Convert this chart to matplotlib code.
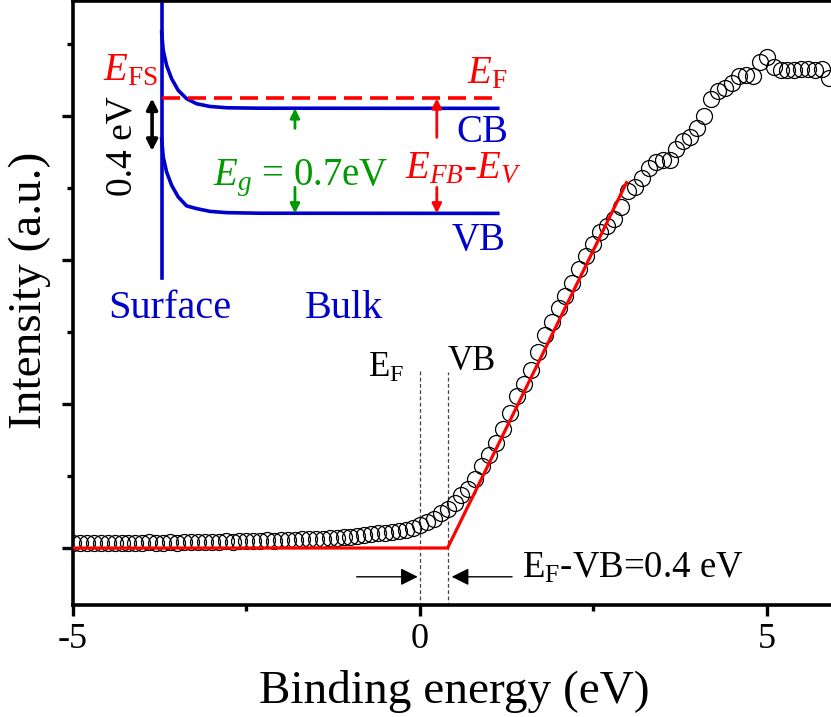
import matplotlib
matplotlib.use("Agg")
import matplotlib.pyplot as plt
from matplotlib.ticker import MultipleLocator

# ---- datos ----
energia = [round(-5.0 + 0.1 * i, 1) for i in range(110)]
intensidad = [
    0.035, 0.037, 0.033, 0.035, 0.038, 0.036, 0.034, 0.036, 0.038, 0.035,
    0.037, 0.039, 0.036, 0.038, 0.040, 0.038, 0.041, 0.039, 0.042, 0.044,
    0.041, 0.045, 0.047, 0.044, 0.048, 0.050, 0.047, 0.051, 0.053, 0.050,
    0.055, 0.057, 0.058, 0.060, 0.062, 0.063, 0.066, 0.068, 0.072, 0.076,
    0.080, 0.085, 0.090, 0.100, 0.105, 0.105, 0.110, 0.115, 0.125, 0.140,
    0.160, 0.180, 0.200, 0.240, 0.270, 0.310, 0.370, 0.410, 0.480, 0.570,
    0.650, 0.730, 0.830, 0.940, 1.060, 1.140, 1.240, 1.360, 1.480, 1.570,
    1.670, 1.750, 1.840, 1.940, 2.030, 2.110, 2.200, 2.240, 2.290, 2.370,
    2.480, 2.510, 2.570, 2.640, 2.680, 2.700, 2.700, 2.770, 2.830, 2.860,
    2.920, 3.000, 3.120, 3.180, 3.200, 3.230, 3.280, 3.290, 3.280, 3.380,
    3.410, 3.340, 3.320, 3.320, 3.320, 3.330, 3.330, 3.320, 3.330, 3.270,
]

# ajuste lineal (borde de la banda de valencia)
ajuste_x = [-5.0, 0.4, 2.98]
ajuste_y = [0.0, 0.0, 2.54]

# esquema de bandas (inserto)
curva_x = [-3.722, -3.699, -3.650, -3.578, -3.483, -3.362, -3.218, -3.026, -2.785, -2.305, 1.124]
cb_y = [3.585, 3.458, 3.354, 3.262, 3.181, 3.123, 3.088, 3.069, 3.060, 3.057, 3.056]
vb_y = [2.845, 2.717, 2.613, 2.521, 2.440, 2.378, 2.359, 2.340, 2.331, 2.327, 2.326]
superficie_x = -3.722
superficie_y = [1.88, 3.79]
fermi_y = 3.125
fermi_x = [-3.722, 1.124]

plt.rcParams['font.family'] = 'Liberation Serif'
plt.rcParams['mathtext.fontset'] = 'custom'
plt.rcParams['mathtext.rm'] = 'Liberation Serif'
plt.rcParams['mathtext.it'] = 'Liberation Serif:italic'
plt.rcParams['mathtext.bf'] = 'Liberation Serif:bold'
plt.rcParams['axes.unicode_minus'] = False

AZUL = '#0000CC'
ROJO = '#FF0000'
VERDE = '#009900'


def flecha(ax, x0, y0, x1, y1, color, lw=2.0, ms=16, estilo='-|>'):
    ax.annotate('', xy=(x1, y1), xytext=(x0, y0),
                arrowprops=dict(arrowstyle=estilo, color=color, lw=lw,
                                mutation_scale=ms, shrinkA=0, shrinkB=0))


def graficar():
    fig = plt.figure(figsize=(8.31, 7.17), dpi=100)
    ax = fig.add_axes([73 / 831, 112 / 717, (836 - 73) / 831, (605 - 1.3) / 717])

    ax.plot(energia, intensidad, 'o', ms=11.5, mfc='none', mec='black', mew=0.9, zorder=3)
    ax.plot(ajuste_x, ajuste_y, color=ROJO, lw=2.3, zorder=4)

    # lineas de referencia E_F y VB
    ax.plot([0.0, 0.0], [-0.4, 1.236], ls=(0, (3, 2)), color='#444444', lw=0.9)
    ax.plot([0.4, 0.4], [-0.4, 1.22], ls=(0, (3, 2)), color='#444444', lw=0.9)
    ax.text(-0.75, 1.19, r'E$_\mathrm{F}$', fontsize=25, va='baseline')
    ax.text(0.40, 1.236, 'VB', fontsize=25, va='baseline')
    flecha(ax, -0.91, -0.2, -0.03, -0.2, 'black', lw=1.0, ms=26)
    flecha(ax, 1.33, -0.2, 0.46, -0.2, 'black', lw=1.0, ms=26)
    ax.text(1.48, -0.208, r'E$_\mathrm{F}$-VB=0.4 eV', fontsize=26.5, va='baseline')

    # inserto: diagrama de bandas
    ax.plot([superficie_x, superficie_x], superficie_y, color=AZUL, lw=2.6)
    ax.plot(curva_x, cb_y, color=AZUL, lw=2.6)
    ax.plot(curva_x, vb_y, color=AZUL, lw=2.6)
    ax.plot(fermi_x, [fermi_y, fermi_y], color=ROJO, lw=2.6, dashes=(5, 2.2))

    flecha(ax, -3.86, 2.76, -3.86, 3.125, 'black', lw=2.6, ms=16, estilo='<|-|>')
    flecha(ax, -1.80, 2.917, -1.80, 3.056, VERDE, lw=2.0, ms=14)
    flecha(ax, -1.80, 2.507, -1.80, 2.326, VERDE, lw=2.0, ms=14)
    flecha(ax, 0.245, 2.854, 0.245, 3.125, ROJO, lw=2.0, ms=14)
    flecha(ax, 0.245, 2.507, 0.245, 2.326, ROJO, lw=2.0, ms=14)

    ax.text(-3.775, 3.25, r'$E_\mathrm{FS}$', color=ROJO, fontsize=28, ha='right', va='baseline')
    ax.text(0.677, 3.229, r'$E_\mathrm{F}$', color=ROJO, fontsize=28, va='baseline')
    ax.text(0.533, 2.82, 'CB', color=AZUL, fontsize=28, va='baseline')
    ax.text(0.461, 2.07, 'VB', color=AZUL, fontsize=28, va='baseline')
    ax.text(-2.983, 2.52, r'$E_g$ = 0.7eV', color=VERDE, fontsize=28, va='baseline')
    ax.text(-0.216, 2.57, r'$E_{FB}$-$E_V$', color=ROJO, fontsize=28, va='baseline')
    ax.text(-4.496, 1.597, 'Surface', color=AZUL, fontsize=29, va='baseline')
    ax.text(-1.657, 1.597, 'Bulk', color=AZUL, fontsize=29, va='baseline')
    ax.text(-4.294, 2.79, '0.4 eV', fontsize=27, rotation=90, ha='center', va='center')

    ax.set_xlim(-5, 6)
    ax.set_ylim(-0.396, 3.80)
    ax.xaxis.set_major_locator(MultipleLocator(5))
    ax.xaxis.set_minor_locator(MultipleLocator(2.5))
    ax.yaxis.set_major_locator(MultipleLocator(1))
    ax.yaxis.set_minor_locator(MultipleLocator(0.5))
    ax.tick_params(which='major', direction='out', length=8, width=2.4, labelsize=26, pad=5)
    ax.tick_params(which='minor', direction='out', length=4.5, width=2.4)
    ax.tick_params(axis='y', labelleft=False)
    for lado in ax.spines.values():
        lado.set_linewidth(2.6)

    fig.text(454 / 831, 1 - 703 / 717, 'Binding energy (eV)', fontsize=34,
             ha='center', va='baseline')
    fig.text(30 / 831, 1 - 290 / 717, 'Intensity (a.u.)', fontsize=34,
             ha='center', va='center', rotation=90)

    fig.savefig('out.png', dpi=100)
    print("[Grafica guardada como 'out.png']")


if __name__ == "__main__":
    graficar()
